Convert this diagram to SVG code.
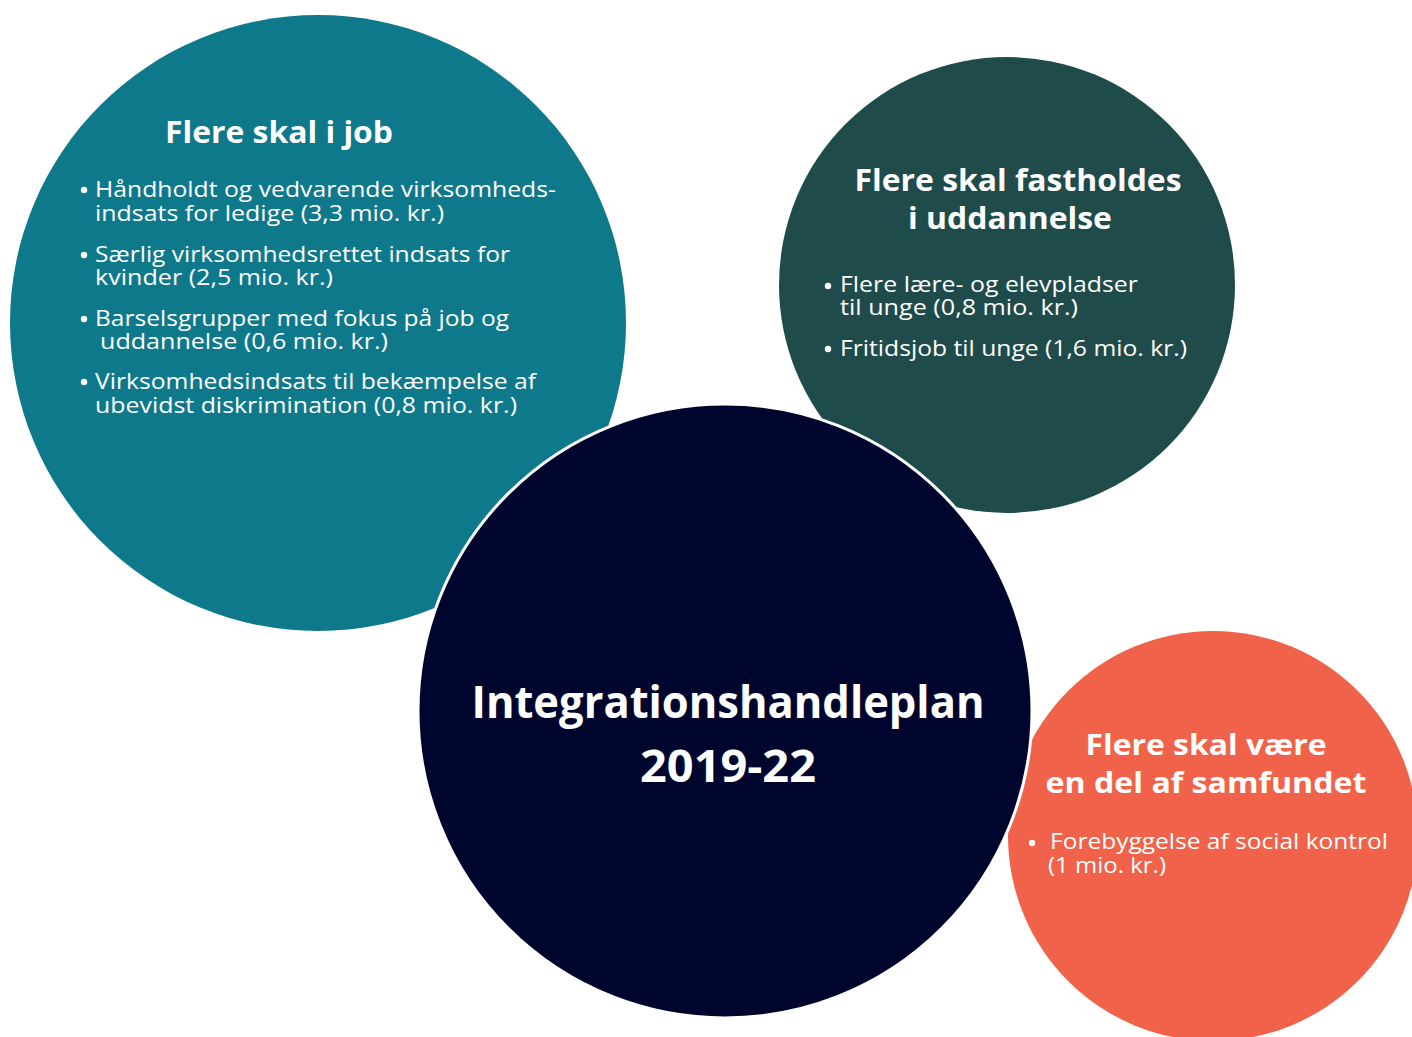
<svg xmlns="http://www.w3.org/2000/svg" width="1412" height="1037" viewBox="0 0 1412 1037">
<style>
.title{font-family:"Open Sans","Liberation Sans",sans-serif;font-weight:700;fill:#fff;text-anchor:middle}
.body{font-family:"Open Sans","Liberation Sans",sans-serif;font-weight:400;fill:#fff;font-size:21px}
.dot{fill:#fff}
</style>
<rect width="1412" height="1037" fill="#fff"/>
<g id="job">
<circle cx="318" cy="323" r="308" fill="#0F798C"/>
<text class="title" x="279" y="143" font-size="31" textLength="228" lengthAdjust="spacingAndGlyphs">Flere skal i job</text>
<circle class="dot" cx="84" cy="190" r="3.2"/>
<text class="body" x="95" y="197" textLength="461" lengthAdjust="spacingAndGlyphs">Håndholdt og vedvarende virksomheds-</text>
<text class="body" x="95" y="221" textLength="349" lengthAdjust="spacingAndGlyphs">indsats for ledige (3,3 mio. kr.)</text>
<circle class="dot" cx="84" cy="255" r="3.2"/>
<text class="body" x="95" y="262" textLength="415" lengthAdjust="spacingAndGlyphs">Særlig virksomhedsrettet indsats for</text>
<text class="body" x="95" y="285" textLength="238" lengthAdjust="spacingAndGlyphs">kvinder (2,5 mio. kr.)</text>
<circle class="dot" cx="84" cy="319" r="3.2"/>
<text class="body" x="95" y="326" textLength="414" lengthAdjust="spacingAndGlyphs">Barselsgrupper med fokus på job og</text>
<text class="body" x="100" y="349" textLength="288" lengthAdjust="spacingAndGlyphs">uddannelse (0,6 mio. kr.)</text>
<circle class="dot" cx="84" cy="382" r="3.2"/>
<text class="body" x="95" y="389" textLength="441" lengthAdjust="spacingAndGlyphs">Virksomhedsindsats til bekæmpelse af</text>
<text class="body" x="95" y="413" textLength="422" lengthAdjust="spacingAndGlyphs">ubevidst diskrimination (0,8 mio. kr.)</text>
</g>
<g id="uddannelse">
<circle cx="1007" cy="285" r="228" fill="#1F4B4B"/>
<text class="title" x="1018" y="191" font-size="31" textLength="327" lengthAdjust="spacingAndGlyphs">Flere skal fastholdes</text>
<text class="title" x="1010" y="229" font-size="31" textLength="204" lengthAdjust="spacingAndGlyphs">i uddannelse</text>
<circle class="dot" cx="828" cy="286" r="3.2"/>
<text class="body" x="840" y="292" textLength="298" lengthAdjust="spacingAndGlyphs">Flere lære- og elevpladser</text>
<text class="body" x="840" y="315" textLength="238" lengthAdjust="spacingAndGlyphs">til unge (0,8 mio. kr.)</text>
<circle class="dot" cx="828" cy="349" r="3.2"/>
<text class="body" x="840" y="356" textLength="347" lengthAdjust="spacingAndGlyphs">Fritidsjob til unge (1,6 mio. kr.)</text>
</g>
<g id="samfundet">
<circle cx="1213" cy="836" r="205" fill="#F0634A"/>
<text class="title" x="1206" y="755" font-size="29" textLength="241" lengthAdjust="spacingAndGlyphs">Flere skal være</text>
<text class="title" x="1206" y="793" font-size="29" textLength="321" lengthAdjust="spacingAndGlyphs">en del af samfundet</text>
<circle class="dot" cx="1032" cy="843" r="3.2"/>
<text class="body" x="1050" y="849" textLength="338" lengthAdjust="spacingAndGlyphs">Forebyggelse af social kontrol</text>
<text class="body" x="1048" y="873" textLength="118" lengthAdjust="spacingAndGlyphs">(1 mio. kr.)</text>
</g>
<g id="plan">
<circle cx="725" cy="711" r="307" fill="#00052E" stroke="#fff" stroke-width="3"/>
<text class="title" x="728" y="718" font-size="45" textLength="513" lengthAdjust="spacingAndGlyphs">Integrationshandleplan</text>
<text class="title" x="728" y="782" font-size="45" textLength="176" lengthAdjust="spacingAndGlyphs">2019-22</text>
</g>
<g id="connectors"/>
</svg>
